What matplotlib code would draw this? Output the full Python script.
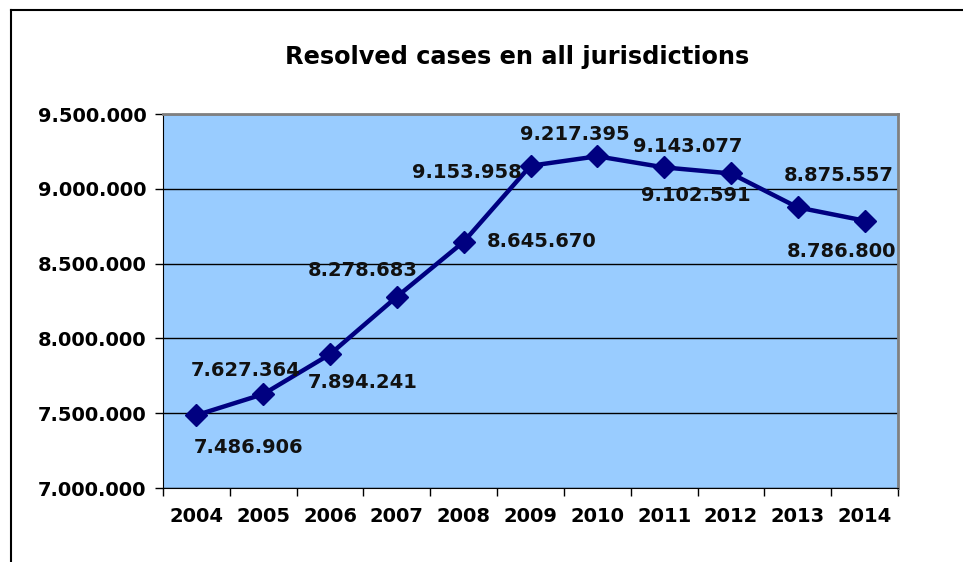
import matplotlib.pyplot as plt
from matplotlib.lines import Line2D
from matplotlib.ticker import FuncFormatter, MultipleLocator

# Resolved cases per year
years = ['2004', '2005', '2006', '2007', '2008', '2009',
         '2010', '2011', '2012', '2013', '2014']
cases = [7486906, 7627364, 7894241, 8278683, 8645670, 9153958,
         9217395, 9143077, 9102591, 8875557, 8786800]

# where each data label sits relative to its point (pixels)
label_offsets = [(52, -32), (-18, 24), (33, -28), (-34, 26), (78, 0), (-64, -7),
                 (-23, 22), (24, 21), (-35, -22), (41, 32), (-23, -31)]


def dotted(v):
    return f"{int(round(v)):,}".replace(',', '.')


fig = plt.figure(figsize=(9.63, 5.62), dpi=100)
ax = fig.add_axes([163 / 963, 1 - 488 / 562, (898 - 163) / 963, (488 - 114) / 562])

x = list(range(len(years)))
ax.plot(x, cases, color='#000080', lw=3.2, marker='D', ms=11,
        mec='#000080', mfc='#000080', zorder=3, clip_on=False)

for xi, v, (dx, dy) in zip(x, cases, label_offsets):
    ax.annotate(dotted(v), (xi, v), xytext=(dx, dy), textcoords='offset pixels',
                ha='center', va='center', fontsize=14, fontweight='bold',
                color='#111111', zorder=4)

ax.set_facecolor('#99CCFF')
ax.set_xlim(-0.5, len(years) - 0.5)
ax.set_ylim(7000000, 9500000)
ax.yaxis.set_major_locator(MultipleLocator(500000))
ax.yaxis.set_major_formatter(FuncFormatter(lambda v, p: dotted(v)))
ax.grid(axis='y', color='black', lw=1)
ax.set_axisbelow(True)

# category labels between boundary ticks
ax.set_xticks([i - 0.5 for i in range(len(years) + 1)])
ax.set_xticklabels([])
ax.set_xticks(x, minor=True)
ax.set_xticklabels(years, minor=True)
ax.tick_params(axis='x', which='minor', length=0, pad=14)
ax.tick_params(axis='x', which='major', length=6, width=1, direction='out')
ax.tick_params(axis='y', length=6, width=1, direction='out', pad=6)
for lab in ax.get_xticklabels(minor=True) + ax.get_yticklabels():
    lab.set_fontsize(14)
    lab.set_fontweight('bold')

ax.spines['left'].set_color('black')
ax.spines['bottom'].set_color('black')
ax.spines['top'].set_color('#808080')
ax.spines['right'].set_color('#808080')
ax.spines['top'].set_linewidth(2)
ax.spines['right'].set_linewidth(2)

fig.text(517 / 963, 1 - 57 / 562, 'Resolved cases en all jurisdictions',
         ha='center', va='center', fontsize=17.3, fontweight='bold')

# outer chart frame (top and left edges only visible)
fig.add_artist(Line2D([11 / 963, 1], [1 - 10 / 562] * 2, color='black', lw=1.5,
                      transform=fig.transFigure))
fig.add_artist(Line2D([11 / 963] * 2, [0, 1 - 10 / 562], color='black', lw=1.5,
                      transform=fig.transFigure))

fig.savefig('out.png', dpi=100)
